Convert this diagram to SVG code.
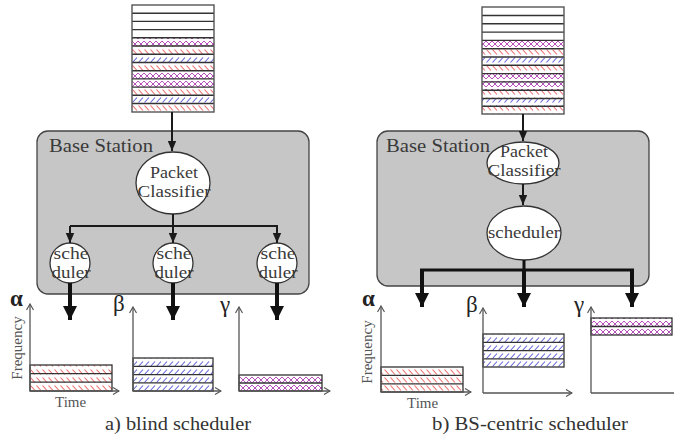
<svg xmlns="http://www.w3.org/2000/svg" width="674" height="436" viewBox="0 0 674 436">
  <style>
    text { font-family: "Liberation Serif", "DejaVu Serif", serif; fill: #3a3a3a; }
    .bs { fill: #c6c6c6; stroke: #444; stroke-width: 1.3; }
    .node { fill: #fff; stroke: #333; stroke-width: 1.3; }
    .lbl { font-size: 17px; text-anchor: middle; }
    .bstxt { font-size: 18px; }
    .q { stroke: #333; stroke-width: 1.4; }
    .cell { stroke: #333; stroke-width: 1.3; }
    .axis { fill: none; stroke: #555; stroke-width: 1.3; }
    .thin { fill: none; stroke: #1a1a1a; stroke-width: 2; }
    .thick { fill: none; stroke: #111; stroke-width: 4; }
    .greek { font-size: 23px; fill: #222; }
    .ax { font-size: 15px; fill: #555; }
    .cap { font-size: 18px; fill: #333; text-anchor: middle; }
  </style>
  <defs>
    <pattern id="pRed" patternUnits="userSpaceOnUse" width="6" height="8">
      <rect width="6" height="8" fill="#fff"/>
      <path d="M0.5,1.5 L5,6.5" stroke="#ec6a6a" stroke-width="1.1"/>
    </pattern>
    <pattern id="pBlue" patternUnits="userSpaceOnUse" width="6" height="8">
      <rect width="6" height="8" fill="#fff"/>
      <path d="M0.5,6.5 L5,1.5" stroke="#6464d8" stroke-width="1.1"/>
    </pattern>
    <pattern id="pPurple" patternUnits="userSpaceOnUse" width="6" height="8">
      <rect width="6" height="8" fill="#fff"/>
      <path d="M0,1 L6,7 M0,7 L6,1" stroke="#b850bc" stroke-width="1"/>
    </pattern>
    <marker id="headThin" markerUnits="userSpaceOnUse" markerWidth="10" markerHeight="10" viewBox="0 0 10 10" refX="10" refY="5" orient="auto">
      <path d="M0,0.8 L10,5 L0,9.2 Z" fill="#1a1a1a"/>
    </marker>
    <marker id="headThick" markerUnits="userSpaceOnUse" markerWidth="14" markerHeight="14" viewBox="0 0 14 14" refX="14" refY="7" orient="auto">
      <path d="M0,0 L14,7 L0,14 Z" fill="#111"/>
    </marker>
    <marker id="headAxis" markerUnits="userSpaceOnUse" markerWidth="8" markerHeight="8" viewBox="0 0 8 8" refX="7" refY="4" orient="auto">
      <path d="M1,0.5 L7,4 L1,7.5" fill="none" stroke="#555" stroke-width="1.2"/>
    </marker>
  </defs>

  <!-- ===== a) blind scheduler ===== -->
  <g id="queue-a">
    <rect x="132" y="5" width="82" height="107" fill="#fff"/>
    <rect x="132" y="38" width="82" height="8.2" fill="url(#pPurple)"/>
    <rect x="132" y="46.2" width="82" height="8.2" fill="url(#pRed)"/>
    <rect x="132" y="54.4" width="82" height="8.2" fill="url(#pBlue)"/>
    <rect x="132" y="62.6" width="82" height="8.2" fill="url(#pRed)"/>
    <rect x="132" y="70.8" width="82" height="8.2" fill="url(#pPurple)"/>
    <rect x="132" y="79" width="82" height="8.2" fill="url(#pPurple)"/>
    <rect x="132" y="87.2" width="82" height="8.2" fill="url(#pRed)"/>
    <rect x="132" y="95.4" width="82" height="8.2" fill="url(#pBlue)"/>
    <rect x="132" y="103.6" width="82" height="8.4" fill="url(#pRed)"/>
    <path class="q" d="M132,13.2H214M132,21.4H214M132,29.6H214M132,37.8H214M132,46H214M132,54.3H214M132,62.5H214M132,70.7H214M132,78.9H214M132,87.1H214M132,95.3H214M132,103.5H214"/>
    <rect x="132" y="5" width="82" height="107" fill="none" stroke="#555" stroke-width="1.4"/>
  </g>

  <g id="bs-a">
    <rect class="bs" x="37" y="131" width="272" height="163" rx="11"/>
    <text class="bstxt" x="49" y="152" textLength="104" lengthAdjust="spacingAndGlyphs">Base Station</text>
  </g>

  <g id="pc-a">
    <ellipse class="node" cx="173" cy="183" rx="37" ry="31"/>
    <text class="lbl" x="174" y="178" textLength="48" lengthAdjust="spacingAndGlyphs">Packet</text>
    <text class="lbl" x="174" y="197" textLength="73" lengthAdjust="spacingAndGlyphs">Classifier</text>
  </g>

  <g id="sched-a1">
    <circle class="node" cx="70" cy="263" r="20"/>
    <text class="lbl" x="71" y="259" textLength="35" lengthAdjust="spacingAndGlyphs">sche</text>
    <text class="lbl" x="71" y="278" textLength="39" lengthAdjust="spacingAndGlyphs">duler</text>
  </g>
  <g id="sched-a2">
    <circle class="node" cx="173" cy="263" r="20"/>
    <text class="lbl" x="174" y="259" textLength="35" lengthAdjust="spacingAndGlyphs">sche</text>
    <text class="lbl" x="174" y="278" textLength="39" lengthAdjust="spacingAndGlyphs">duler</text>
  </g>
  <g id="sched-a3">
    <circle class="node" cx="277" cy="263" r="20"/>
    <text class="lbl" x="278" y="259" textLength="35" lengthAdjust="spacingAndGlyphs">sche</text>
    <text class="lbl" x="278" y="278" textLength="39" lengthAdjust="spacingAndGlyphs">duler</text>
  </g>

  <g id="chart-a-alpha">
    <rect x="30" y="365" width="82" height="8.6" fill="url(#pRed)"/>
    <rect x="30" y="373.6" width="82" height="8.6" fill="url(#pRed)"/>
    <rect x="30" y="382.2" width="82" height="8.8" fill="url(#pRed)"/>
    <rect class="cell" x="30" y="365" width="82" height="26" fill="none"/>
    <path class="cell" d="M30,373.6H112M30,382.2H112"/>
    <path class="axis" d="M30,391V304" marker-end="url(#headAxis)"/>
    <path class="axis" d="M30,391H119" marker-end="url(#headAxis)"/>
    <text class="greek" x="10" y="306" style="font-weight:bold">α</text>
    <text class="ax" transform="translate(22,348) rotate(-90)" text-anchor="middle">Frequency</text>
    <text class="ax" x="55" y="407">Time</text>
  </g>

  <g id="chart-a-beta">
    <rect x="133" y="358" width="80" height="8.3" fill="url(#pBlue)"/>
    <rect x="133" y="366.3" width="80" height="8.3" fill="url(#pBlue)"/>
    <rect x="133" y="374.6" width="80" height="8.3" fill="url(#pBlue)"/>
    <rect x="133" y="382.9" width="80" height="8.1" fill="url(#pBlue)"/>
    <rect class="cell" x="133" y="358" width="80" height="33" fill="none"/>
    <path class="cell" d="M133,366.3H213M133,374.6H213M133,382.9H213"/>
    <path class="axis" d="M133,391V307" marker-end="url(#headAxis)"/>
    <path class="axis" d="M133,391H221" marker-end="url(#headAxis)"/>
    <text class="greek" x="113" y="311">β</text>
  </g>

  <g id="chart-a-gamma">
    <rect x="239" y="375" width="83" height="8" fill="url(#pPurple)"/>
    <rect x="239" y="383" width="83" height="8" fill="url(#pPurple)"/>
    <rect class="cell" x="239" y="375" width="83" height="16" fill="none"/>
    <path class="cell" d="M239,383H322"/>
    <path class="axis" d="M239,391V307" marker-end="url(#headAxis)"/>
    <path class="axis" d="M239,391H330" marker-end="url(#headAxis)"/>
    <text class="greek" x="220" y="312">γ</text>
  </g>

  <text class="cap" x="178" y="430" textLength="146" lengthAdjust="spacingAndGlyphs">a) blind scheduler</text>

  <!-- ===== b) BS-centric scheduler ===== -->
  <g id="queue-b">
    <rect x="482" y="7" width="82" height="107" fill="#fff"/>
    <rect x="482" y="40.5" width="82" height="8.3" fill="url(#pPurple)"/>
    <rect x="482" y="48.8" width="82" height="8.3" fill="url(#pRed)"/>
    <rect x="482" y="57.1" width="82" height="8.3" fill="url(#pBlue)"/>
    <rect x="482" y="65.4" width="82" height="8.3" fill="url(#pRed)"/>
    <rect x="482" y="73.7" width="82" height="8.3" fill="url(#pPurple)"/>
    <rect x="482" y="82" width="82" height="8.3" fill="url(#pPurple)"/>
    <rect x="482" y="90.3" width="82" height="8.3" fill="url(#pRed)"/>
    <rect x="482" y="98.6" width="82" height="7.8" fill="url(#pBlue)"/>
    <rect x="482" y="106.4" width="82" height="7.6" fill="url(#pRed)"/>
    <path class="q" d="M482,15.5H564M482,23.8H564M482,32.1H564M482,40.4H564M482,48.7H564M482,57H564M482,65.3H564M482,73.6H564M482,81.9H564M482,90.2H564M482,98.5H564M482,106.3H564"/>
    <rect x="482" y="7" width="82" height="107" fill="none" stroke="#555" stroke-width="1.4"/>
  </g>

  <g id="bs-b">
    <rect class="bs" x="377" y="131" width="272" height="155" rx="11"/>
    <text class="bstxt" x="386" y="152" textLength="104" lengthAdjust="spacingAndGlyphs">Base Station</text>
  </g>

  <g id="pc-b">
    <ellipse class="node" cx="523" cy="163" rx="36" ry="21"/>
    <text class="lbl" x="524" y="157" textLength="48" lengthAdjust="spacingAndGlyphs">Packet</text>
    <text class="lbl" x="524" y="176" textLength="73" lengthAdjust="spacingAndGlyphs">Classifier</text>
  </g>

  <g id="sched-b">
    <ellipse class="node" cx="524" cy="233" rx="37" ry="27"/>
    <text class="lbl" x="524" y="238" textLength="72" lengthAdjust="spacingAndGlyphs">scheduler</text>
  </g>

  <g id="chart-b-alpha">
    <rect x="381" y="367" width="82" height="8.4" fill="url(#pRed)"/>
    <rect x="381" y="375.4" width="82" height="8.4" fill="url(#pRed)"/>
    <rect x="381" y="383.8" width="82" height="8.2" fill="url(#pRed)"/>
    <rect class="cell" x="381" y="367" width="82" height="25" fill="none"/>
    <path class="cell" d="M381,375.4H463M381,383.8H463"/>
    <path class="axis" d="M381,392V306" marker-end="url(#headAxis)"/>
    <path class="axis" d="M381,392H471" marker-end="url(#headAxis)"/>
    <text class="greek" x="362" y="306" style="font-weight:bold">α</text>
    <text class="ax" transform="translate(372,352) rotate(-90)" text-anchor="middle">Frequency</text>
    <text class="ax" x="407" y="408">Time</text>
  </g>

  <g id="chart-b-beta">
    <rect x="483" y="334" width="81" height="8.3" fill="url(#pBlue)"/>
    <rect x="483" y="342.3" width="81" height="8.3" fill="url(#pBlue)"/>
    <rect x="483" y="350.6" width="81" height="8.3" fill="url(#pBlue)"/>
    <rect x="483" y="358.9" width="81" height="8.1" fill="url(#pBlue)"/>
    <rect class="cell" x="483" y="334" width="81" height="33" fill="none"/>
    <path class="cell" d="M483,342.3H564M483,350.6H564M483,358.9H564"/>
    <path class="axis" d="M483,393V308" marker-end="url(#headAxis)"/>
    <path class="axis" d="M483,393H572" marker-end="url(#headAxis)"/>
    <text class="greek" x="466" y="312">β</text>
  </g>

  <g id="chart-b-gamma">
    <rect x="591" y="318" width="81" height="8.5" fill="url(#pPurple)"/>
    <rect x="591" y="326.5" width="81" height="8.5" fill="url(#pPurple)"/>
    <rect class="cell" x="591" y="318" width="81" height="17" fill="none"/>
    <path class="cell" d="M591,326.5H672"/>
    <path class="axis" d="M591,393V307" marker-end="url(#headAxis)"/>
    <path class="axis" d="M591,393H676"/>
    <text class="greek" x="574" y="312">γ</text>
  </g>

  <text class="cap" x="530" y="430" textLength="196" lengthAdjust="spacingAndGlyphs">b) BS-centric scheduler</text>

  <!-- ===== connectors ===== -->
  <g id="connectors">
    <!-- a) queue -> classifier -> per-class schedulers -->
    <path class="thin" d="M172,112V151" marker-end="url(#headThin)"/>
    <path class="thin" d="M173,214V226M70,226H278"/>
    <path class="thin" d="M70,226V243" marker-end="url(#headThin)"/>
    <path class="thin" d="M173,226V243" marker-end="url(#headThin)"/>
    <path class="thin" d="M277,226V243" marker-end="url(#headThin)"/>
    <path class="thick" d="M70,283V320" marker-end="url(#headThick)"/>
    <path class="thick" d="M173,283V320" marker-end="url(#headThick)"/>
    <path class="thick" d="M277,283V320" marker-end="url(#headThick)"/>

    <!-- b) queue -> classifier -> single scheduler -> classes -->
    <path class="thin" d="M523,114V141" marker-end="url(#headThin)"/>
    <path class="thin" d="M523,184V205" marker-end="url(#headThin)"/>
    <path class="thick" d="M524,260V270M420,270H634" style="stroke-width:3"/>
    <path class="thick" d="M422,269V307" marker-end="url(#headThick)"/>
    <path class="thick" d="M524,269V307" marker-end="url(#headThick)"/>
    <path class="thick" d="M632,269V307" marker-end="url(#headThick)"/>
  </g>
</svg>
